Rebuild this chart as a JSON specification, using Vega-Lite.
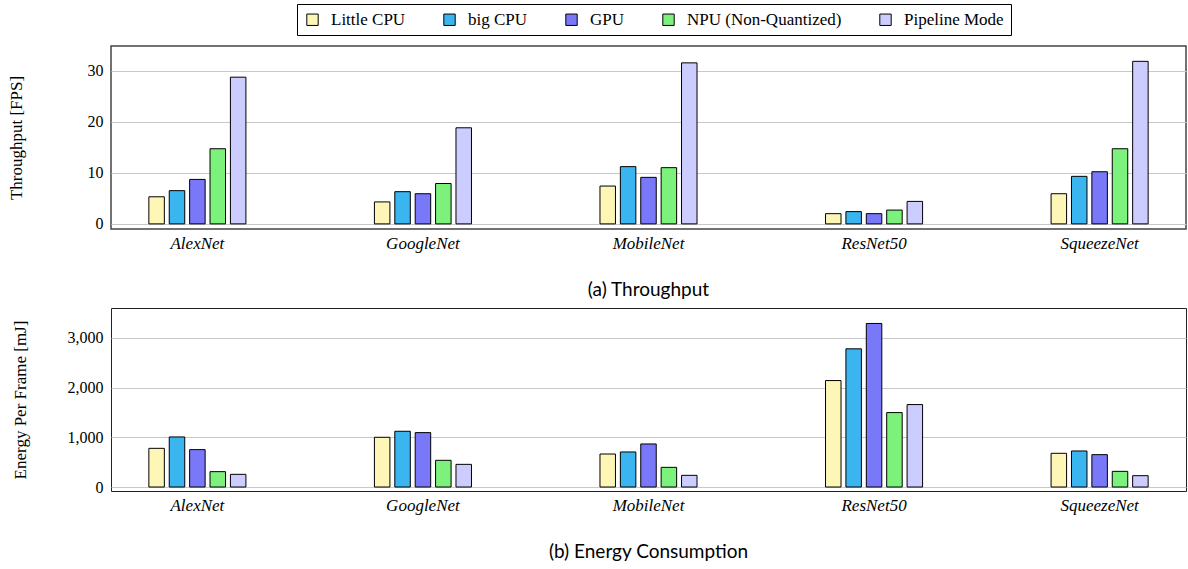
{
  "$schema": "https://vega.github.io/schema/vega-lite/v6.json",
  "padding": {"left": 6, "top": 3, "right": 2, "bottom": 2},
  "spacing": 6,
  "config": {
    "font": "Liberation Serif",
    "view": {"stroke": "#444", "strokeWidth": 1.5},
    "axis": {"labelFont": "Liberation Serif", "labelFontSize": 16, "labelColor": "black", "titleFont": "Liberation Serif", "titleFontSize": 17, "titleFontWeight": "normal", "titleColor": "black", "ticks": false, "domain": false, "gridColor": "#c8c8c8", "gridWidth": 1},
    "axisX": {"labelFontStyle": "italic", "labelFontSize": 17, "labelAngle": 0, "labelPadding": 6, "grid": false, "title": null},
    "title": {"font": "Lato", "fontSize": 19, "fontWeight": "normal", "color": "black", "orient": "bottom", "anchor": "middle"},
    "legend": {"orient": "none", "legendX": 186, "legendY": -42, "direction": "horizontal", "strokeColor": "black", "padding": 7, "symbolType": "square", "symbolSize": 130, "symbolStrokeColor": "black", "symbolStrokeWidth": 1, "symbolOpacity": 1, "labelFont": "Liberation Serif", "labelFontSize": 17, "labelColor": "black", "labelOffset": 10, "columnPadding": 35, "title": null}
  },
  "datasets": {
    "d": [
      {"model": "AlexNet", "device": "Little CPU", "fps": 5.3, "energy": 778},
      {"model": "AlexNet", "device": "big CPU", "fps": 6.5, "energy": 1007},
      {"model": "AlexNet", "device": "GPU", "fps": 8.7, "energy": 752},
      {"model": "AlexNet", "device": "NPU (Non-Quantized)", "fps": 14.7, "energy": 309},
      {"model": "AlexNet", "device": "Pipeline Mode", "fps": 28.7, "energy": 255},
      {"model": "GoogleNet", "device": "Little CPU", "fps": 4.3, "energy": 1000},
      {"model": "GoogleNet", "device": "big CPU", "fps": 6.3, "energy": 1121},
      {"model": "GoogleNet", "device": "GPU", "fps": 5.9, "energy": 1094},
      {"model": "GoogleNet", "device": "NPU (Non-Quantized)", "fps": 7.9, "energy": 537},
      {"model": "GoogleNet", "device": "Pipeline Mode", "fps": 18.8, "energy": 456},
      {"model": "MobileNet", "device": "Little CPU", "fps": 7.4, "energy": 664},
      {"model": "MobileNet", "device": "big CPU", "fps": 11.2, "energy": 705},
      {"model": "MobileNet", "device": "GPU", "fps": 9.1, "energy": 866},
      {"model": "MobileNet", "device": "NPU (Non-Quantized)", "fps": 11.0, "energy": 396},
      {"model": "MobileNet", "device": "Pipeline Mode", "fps": 31.5, "energy": 235},
      {"model": "ResNet50", "device": "Little CPU", "fps": 2.0, "energy": 2141},
      {"model": "ResNet50", "device": "big CPU", "fps": 2.4, "energy": 2779},
      {"model": "ResNet50", "device": "GPU", "fps": 2.0, "energy": 3289},
      {"model": "ResNet50", "device": "NPU (Non-Quantized)", "fps": 2.7, "energy": 1497},
      {"model": "ResNet50", "device": "Pipeline Mode", "fps": 4.4, "energy": 1658},
      {"model": "SqueezeNet", "device": "Little CPU", "fps": 5.9, "energy": 678},
      {"model": "SqueezeNet", "device": "big CPU", "fps": 9.3, "energy": 725},
      {"model": "SqueezeNet", "device": "GPU", "fps": 10.2, "energy": 651},
      {"model": "SqueezeNet", "device": "NPU (Non-Quantized)", "fps": 14.7, "energy": 315},
      {"model": "SqueezeNet", "device": "Pipeline Mode", "fps": 31.8, "energy": 228}
    ]
  },
  "vconcat": [
    {
      "width": 1075,
      "height": 183,
      "data": {"name": "d"},
      "title": {"text": "(a) Throughput", "offset": 30},
      "mark": {"type": "bar", "stroke": "black", "strokeWidth": 1},
      "encoding": {
        "x": {"field": "model", "type": "nominal", "sort": ["AlexNet", "GoogleNet", "MobileNet", "ResNet50", "SqueezeNet"], "scale": {"paddingInner": 0.548, "paddingOuter": 0.157}},
        "xOffset": {"field": "device", "type": "nominal", "sort": ["Little CPU", "big CPU", "GPU", "NPU (Non-Quantized)", "Pipeline Mode"], "scale": {"paddingInner": 0.24, "paddingOuter": 0.12}},
        "y": {"field": "fps", "type": "quantitative", "scale": {"domain": [-1, 34.8], "nice": false, "zero": false}, "axis": {"values": [0, 10, 20, 30], "title": "Throughput [FPS]", "titlePadding": 62, "labelPadding": 8}},
        "y2": {"datum": 0},
        "color": {"field": "device", "type": "nominal", "sort": ["Little CPU", "big CPU", "GPU", "NPU (Non-Quantized)", "Pipeline Mode"], "scale": {"domain": ["Little CPU", "big CPU", "GPU", "NPU (Non-Quantized)", "Pipeline Mode"], "range": ["#FDF6B6", "#3AB5F0", "#7878F8", "#7CF27C", "#CCCCFF"]}}
      }
    },
    {
      "width": 1075,
      "height": 183,
      "view": {"stroke": "#222", "strokeWidth": 1},
      "data": {"name": "d"},
      "title": {"text": "(b) Energy Consumption", "offset": 30},
      "mark": {"type": "bar", "stroke": "black", "strokeWidth": 1},
      "encoding": {
        "x": {"field": "model", "type": "nominal", "sort": ["AlexNet", "GoogleNet", "MobileNet", "ResNet50", "SqueezeNet"], "scale": {"paddingInner": 0.548, "paddingOuter": 0.157}},
        "xOffset": {"field": "device", "type": "nominal", "sort": ["Little CPU", "big CPU", "GPU", "NPU (Non-Quantized)", "Pipeline Mode"], "scale": {"paddingInner": 0.24, "paddingOuter": 0.12}},
        "y": {"field": "energy", "type": "quantitative", "scale": {"domain": [-80, 3600], "nice": false, "zero": false}, "axis": {"values": [0, 1000, 2000, 3000], "format": ",.0f", "title": "Energy Per Frame [mJ]", "titlePadding": 38, "labelPadding": 8}},
        "y2": {"datum": 0},
        "color": {"field": "device", "type": "nominal", "sort": ["Little CPU", "big CPU", "GPU", "NPU (Non-Quantized)", "Pipeline Mode"], "scale": {"domain": ["Little CPU", "big CPU", "GPU", "NPU (Non-Quantized)", "Pipeline Mode"], "range": ["#FDF6B6", "#3AB5F0", "#7878F8", "#7CF27C", "#CCCCFF"]}}
      }
    }
  ]
}
